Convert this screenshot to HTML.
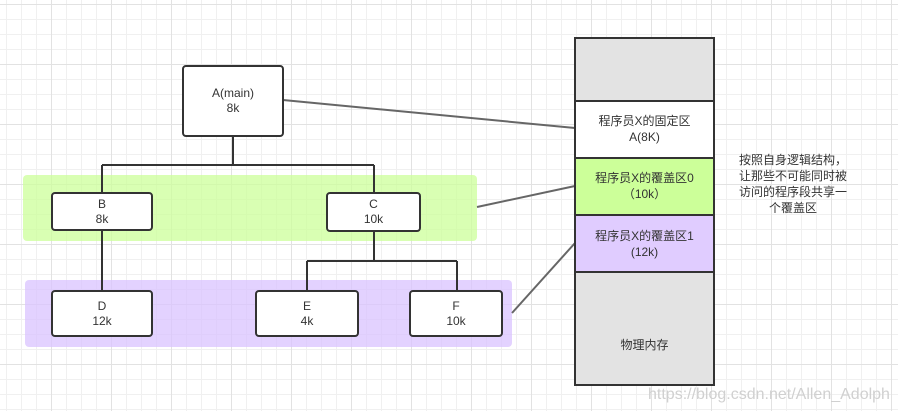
<!DOCTYPE html>
<html><head><meta charset="utf-8"><style>
html,body{margin:0;padding:0}
body{width:898px;height:411px;position:relative;overflow:hidden;background:#fff;
background-image:
linear-gradient(to right,#e2e2e2 1px,transparent 1px),
linear-gradient(to bottom,#e2e2e2 1px,transparent 1px),
linear-gradient(to right,#f0f0f0 1px,transparent 1px),
linear-gradient(to bottom,#f0f0f0 1px,transparent 1px);
background-size:60px 60px,60px 60px,15px 15px,15px 15px;
background-position:51px 4px,51px 4px,6px 4px,6px 4px;
font-family:"Liberation Sans","Noto Sans CJK SC",sans-serif;color:#333}
.t{position:absolute;font-size:12px;text-align:center;line-height:15px}
</style></head><body>
<svg width="898" height="411" style="position:absolute;left:0;top:0">
<rect x="23" y="175" width="454" height="66" rx="4" fill="#ccff99" opacity="0.75"/>
<rect x="25" y="280" width="487" height="67" rx="4" fill="#d9c3ff" opacity="0.75"/>
<g stroke="#333" stroke-width="2" fill="none">
<path d="M233 136V165M102 165H374M102 165V193M374 165V193M102 230V291M374 231V261M307 261H457M307 261V291M457 261V291"/>
</g>
<g stroke="#666" stroke-width="2">
<line x1="283" y1="100" x2="575" y2="128"/>
<line x1="477" y1="207" x2="575" y2="186"/>
<line x1="512" y1="313" x2="575" y2="243"/>
</g>
<g stroke="#333" stroke-width="2" fill="#fff">
<rect x="183" y="66" width="100" height="70" rx="3"/>
<rect x="52" y="193" width="100" height="37" rx="3"/>
<rect x="327" y="193" width="93" height="38" rx="3"/>
<rect x="52" y="291" width="100" height="45" rx="3"/>
<rect x="256" y="291" width="102" height="45" rx="3"/>
<rect x="410" y="291" width="92" height="45" rx="3"/>
</g>
<g stroke="#333" stroke-width="2">
<rect x="575" y="38" width="139" height="63" fill="#e3e3e3"/>
<rect x="575" y="101" width="139" height="57" fill="#fff"/>
<rect x="575" y="158" width="139" height="57" fill="#ccff99"/>
<rect x="575" y="215" width="139" height="57" fill="#e0ccff"/>
<rect x="575" y="272" width="139" height="113" fill="#e3e3e3"/>
</g>
</svg>
<div class="t" style="left:183px;top:86px;width:100px">A(main)<br>8k</div>
<div class="t" style="left:52px;top:197px;width:100px">B<br>8k</div>
<div class="t" style="left:327px;top:197px;width:93px">C<br>10k</div>
<div class="t" style="left:52px;top:299px;width:100px">D<br>12k</div>
<div class="t" style="left:256px;top:299px;width:102px">E<br>4k</div>
<div class="t" style="left:410px;top:299px;width:92px">F<br>10k</div>
<div class="t" style="left:575px;top:113px;width:139px;line-height:16px">程序员X的固定区<br>A(8K)</div>
<div class="t" style="left:575px;top:170px;width:139px;line-height:16px">程序员X的覆盖区0<br>（10k）</div>
<div class="t" style="left:575px;top:228px;width:139px;line-height:16px">程序员X的覆盖区1<br>(12k)</div>
<div class="t" style="left:575px;top:338px;width:139px">物理内存</div>
<div class="t" style="left:728px;top:152px;width:130px;line-height:16px">按照自身逻辑结构，<br>让那些不可能同时被<br>访问的程序段共享一<br>个覆盖区</div>
<div style="position:absolute;left:648px;top:386px;font-size:16px;color:#d0d0d0">https://blog.csdn.net/Allen_Adolph</div>
</body></html>
